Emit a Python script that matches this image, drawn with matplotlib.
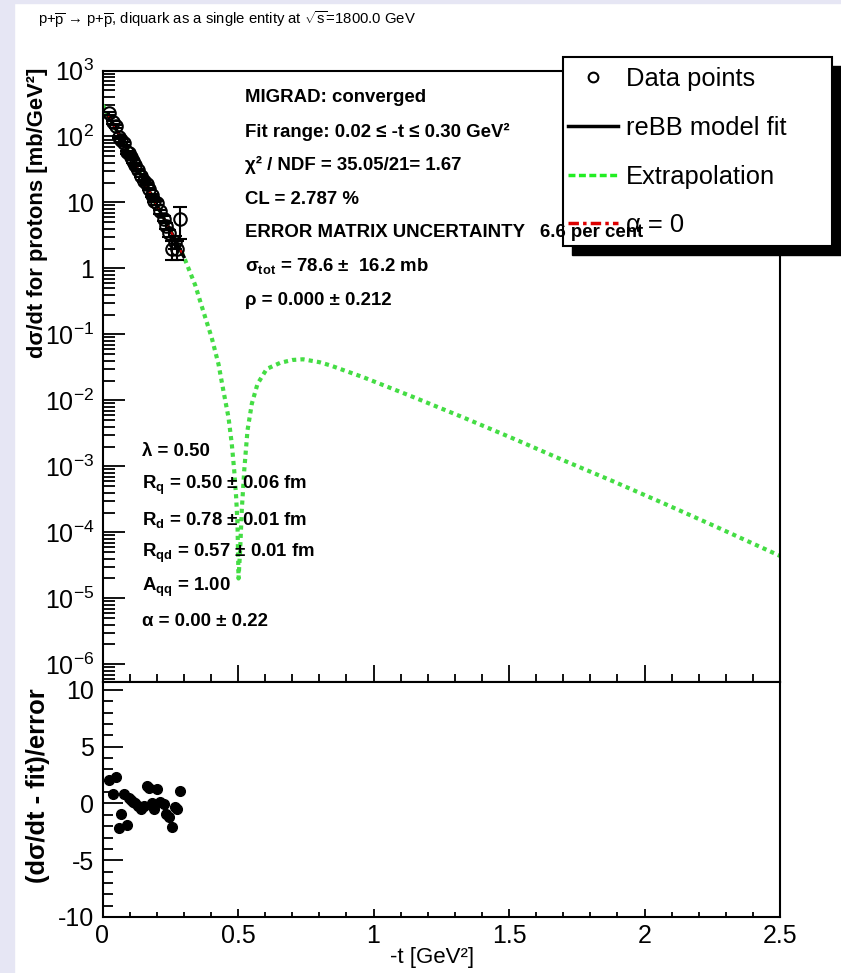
import numpy as np
import matplotlib
matplotlib.use("Agg")
import matplotlib.pyplot as plt
from matplotlib.patches import Rectangle
from matplotlib.lines import Line2D
from matplotlib.ticker import FixedLocator, FixedFormatter, MultipleLocator, LogLocator, NullFormatter

# measured data points (-t in GeV^2, dsigma/dt in mb/GeV^2)
t_data = [0.025, 0.038, 0.050, 0.060, 0.070, 0.080, 0.091, 0.098, 0.106, 0.114,
          0.121, 0.130, 0.141, 0.152, 0.163, 0.172, 0.181, 0.190, 0.200, 0.213,
          0.226, 0.235, 0.246, 0.256, 0.266, 0.275, 0.285]
xs_data = [225, 163, 142, 98, 87, 79, 57.5, 56.5, 48.7, 42.0,
           36.8, 31.1, 25.5, 21.3, 18.9, 16.0, 12.8, 10.6, 9.8, 7.3,
           5.7, 4.4, 3.4, 2.0, 2.55, 2.0, 5.6]
xs_err = [13, 8, 6, 4.5, 4, 3.5, 2.9, 2.2, 1.9, 1.7,
          1.5, 1.3, 1.1, 0.9, 0.8, 0.7, 0.6, 0.55, 0.55, 0.5,
          0.45, 0.45, 0.45, 0.65, 0.6, 0.65, 2.8]
residuals = [2.1, 0.8, 2.3, -2.2, -0.9, 0.8, -1.9, 0.5, 0.3, 0.1,
             0.0, -0.2, -0.45, -0.2, 1.5, 1.4, 0.0, -0.45, 1.25, 0.15,
             -0.05, -0.9, -1.2, -2.1, -0.3, -0.5, 1.1]

# reBB model curve
t_curve = [0.0, 0.02, 0.05, 0.10, 0.15, 0.20, 0.25, 0.30, 0.342, 0.372,
           0.403, 0.428, 0.446, 0.465, 0.477, 0.486, 0.493, 0.498, 0.502, 0.508,
           0.514, 0.523, 0.535, 0.551, 0.572, 0.606, 0.655, 0.70, 0.74, 0.80,
           0.84, 0.963, 1.148, 1.332, 1.517, 1.702, 1.886, 2.071, 2.256, 2.5]
xs_curve = [302, 214, 129, 53.7, 22.4, 9.1, 3.8, 1.51, 0.56, 0.224,
            0.089, 0.0355, 0.0141, 0.0055, 0.0022, 8.7e-4, 3.5e-4, 1.4e-4, 2.0e-5, 5.5e-5,
            2.2e-4, 8.7e-4, 3.5e-3, 8.9e-3, 0.0178, 0.030, 0.037, 0.041, 0.042, 0.038,
            0.034, 0.0224, 0.0112, 5.5e-3, 2.63e-3, 1.23e-3, 5.9e-4, 2.75e-4, 1.26e-4, 4.4e-5]
fit_range = (0.02, 0.30)

y_major = [1e-6, 1e-5, 1e-4, 1e-3, 1e-2, 1e-1, 1, 10, 1e2, 1e3]
y_labels = [r"$\mathregular{10^{-6}}$", r"$\mathregular{10^{-5}}$", r"$\mathregular{10^{-4}}$",
            r"$\mathregular{10^{-3}}$", r"$\mathregular{10^{-2}}$", r"$\mathregular{10^{-1}}$",
            "1", "10", r"$\mathregular{10^{2}}$", r"$\mathregular{10^{3}}$"]
x_major = [0, 0.5, 1, 1.5, 2, 2.5]
x_labels = ["0", "0.5", "1", "1.5", "2", "2.5"]
r_major = [-10, -5, 0, 5, 10]
r_labels = ["-10", "-5", "0", "5", "10"]

fit_lines = ["MIGRAD: converged",
             "Fit range: 0.02 ≤ -t ≤ 0.30 GeV²",
             "χ² / NDF = 35.05/21= 1.67",
             "CL = 2.787 %",
             "ERROR MATRIX UNCERTAINTY   6.6 per cent",
             r"σ$_{tot}$ = 78.6 ±  16.2 mb",
             "ρ = 0.000 ± 0.212"]
par_lines = ["λ = 0.50",
             r"R$_{q}$ = 0.50 ± 0.06 fm",
             r"R$_{d}$ = 0.78 ± 0.01 fm",
             r"R$_{qd}$ = 0.57 ± 0.01 fm",
             r"A$_{qq}$ = 1.00",
             "α = 0.00 ± 0.22"]

plt.rcParams['font.family'] = ['Liberation Sans', 'DejaVu Sans']
plt.rcParams['axes.unicode_minus'] = False
plt.rcParams['mathtext.fontset'] = 'custom'
plt.rcParams['mathtext.rm'] = 'Liberation Sans:bold'
plt.rcParams['mathtext.it'] = 'Liberation Sans:bold'
plt.rcParams['mathtext.bf'] = 'Liberation Sans:bold'
plt.rcParams['mathtext.default'] = 'rm'

W, H = 841, 973
def fx(px):
    return px / W
def fy(py):
    return 1 - py / H

fig = plt.figure(figsize=(W / 100, H / 100), dpi=100)
fig.patches.append(Rectangle((0, 0), fx(14), 1, transform=fig.transFigure,
                             color='#e6e6f4', zorder=0))
fig.patches.append(Rectangle((0, fy(3)), 1, 3 / H, transform=fig.transFigure,
                             color='#e6e6f4', zorder=0))

ax = fig.add_axes([fx(102.5), fy(682), fx(780) - fx(102.5), fy(70.5) - fy(682)])
axr = fig.add_axes([fx(102.5), fy(917), fx(780) - fx(102.5), fy(682) - fy(917)])

green = '#44dd44'
t_c = np.array(t_curve)
xs_c = np.array(xs_curve)
in_fit = (t_c >= fit_range[0]) & (t_c <= fit_range[1])

ax.plot(t_c, xs_c, color=green, lw=3, ls=(0, (1.0, 1.0)), zorder=2)
ax.plot(t_c[in_fit], xs_c[in_fit], color='black', lw=2.5, zorder=3)
ax.plot(t_c[in_fit], xs_c[in_fit], color='#cc0000', lw=1.5, ls=(0, (4, 2, 1, 2)), zorder=4)
ax.errorbar(t_data, xs_data, yerr=xs_err, fmt='o', mfc='none', mec='black', ms=9,
            mew=1.5, ecolor='black', elinewidth=1.5, capsize=5, capthick=1.5, zorder=5)

ax.set_yscale('log')
ax.set_xlim(0, 2.5)
ax.set_ylim(5.4e-7, 1e3)
ax.yaxis.set_major_locator(FixedLocator(y_major))
ax.yaxis.set_major_formatter(FixedFormatter(y_labels))
ax.yaxis.set_minor_locator(LogLocator(base=10, subs=np.arange(2, 10), numticks=30))
ax.yaxis.set_minor_formatter(NullFormatter())
ax.xaxis.set_major_locator(FixedLocator(x_major))
ax.xaxis.set_minor_locator(MultipleLocator(0.1))
ax.tick_params(which='both', direction='in', top=False, right=False, width=1.3)
ax.tick_params(axis='y', which='major', length=15.8, labelsize=18, pad=6)
ax.tick_params(axis='y', which='minor', length=8.6)
ax.tick_params(axis='x', which='major', length=12, labelbottom=False)
ax.tick_params(axis='x', which='minor', length=6)

axr.plot(t_data, residuals, 'o', color='black', ms=7, zorder=3)
axr.set_xlim(0, 2.5)
axr.set_ylim(-10, 10.7)
axr.yaxis.set_major_locator(FixedLocator(r_major))
axr.yaxis.set_major_formatter(FixedFormatter(r_labels))
axr.yaxis.set_minor_locator(MultipleLocator(1))
axr.xaxis.set_major_locator(FixedLocator(x_major))
axr.xaxis.set_major_formatter(FixedFormatter(x_labels))
axr.xaxis.set_minor_locator(MultipleLocator(0.1))
axr.tick_params(which='both', direction='in', top=False, right=False, width=1.3, labelsize=18)
axr.tick_params(axis='y', which='major', length=14.4, pad=6)
axr.tick_params(axis='y', which='minor', length=7.2)
axr.tick_params(axis='x', which='major', length=6, pad=5)
axr.tick_params(axis='x', which='minor', length=3.6)

for a in (ax, axr):
    for s in a.spines.values():
        s.set_linewidth(1.5)

# axis titles
fig.text(fx(38), fy(68), "dσ/dt for protons [mb/GeV²]", rotation=90, ha='center', va='top',
         fontsize=15.8, fontweight='bold')
fig.text(fx(38), fy(688), "(dσ/dt - fit)/error", rotation=90, ha='center', va='top',
         fontsize=18.4, fontweight='bold')
fig.text(fx(432), fy(958), "-t [GeV²]", ha='center', va='center', fontsize=16)

title = (r"p+$\mathregular{\overline{p}}$ → p+$\mathregular{\overline{p}}$, diquark as a single entity at "
         r"$\mathregular{\sqrt{s}}$=1800.0 GeV")
fig.text(fx(38), fy(20), title, ha='left', va='center', fontsize=10.7,
         family=['Liberation Sans', 'DejaVu Sans'])

# legend box with shadow
fig.patches.append(Rectangle((fx(572), fy(255)), fx(832) - fx(563), (246 - 57) / H,
                             transform=fig.transFigure, color='black', zorder=5))
fig.patches.append(Rectangle((fx(563), fy(246)), fx(832) - fx(563), (246 - 57) / H,
                             transform=fig.transFigure, facecolor='white', edgecolor='black',
                             lw=1.5, zorder=6))
handles = [Line2D([], [], ls='none', marker='o', mfc='none', mec='black', ms=7, mew=1.5),
           Line2D([], [], color='black', lw=2.5),
           Line2D([], [], color='#22ee22', lw=2.5, ls=(0, (2, 1))),
           Line2D([], [], color='#dd0000', lw=2.5, ls=(0, (3, 1.2, 1, 1.2)))]
labels = ["Data points", "reBB model fit", "Extrapolation", "α = 0"]
leg = fig.legend(handles, labels, loc='upper left', bbox_to_anchor=(fx(568), fy(67)),
                 frameon=False, fontsize=18.4, handlelength=1.95, handletextpad=0.3,
                 labelspacing=0.97, borderpad=0, borderaxespad=0)
leg.set_zorder(7)

for i, s in enumerate(fit_lines):
    fig.text(fx(245), fy(98 + 33.7 * i), s, ha='left', va='center', fontsize=13.4,
             fontweight='bold', zorder=8)
for i, s in enumerate(par_lines):
    fig.text(fx(142), fy(452 + 33.8 * i), s, ha='left', va='center', fontsize=13.4,
             fontweight='bold', zorder=8)

fig.savefig("out.png", dpi=100)
